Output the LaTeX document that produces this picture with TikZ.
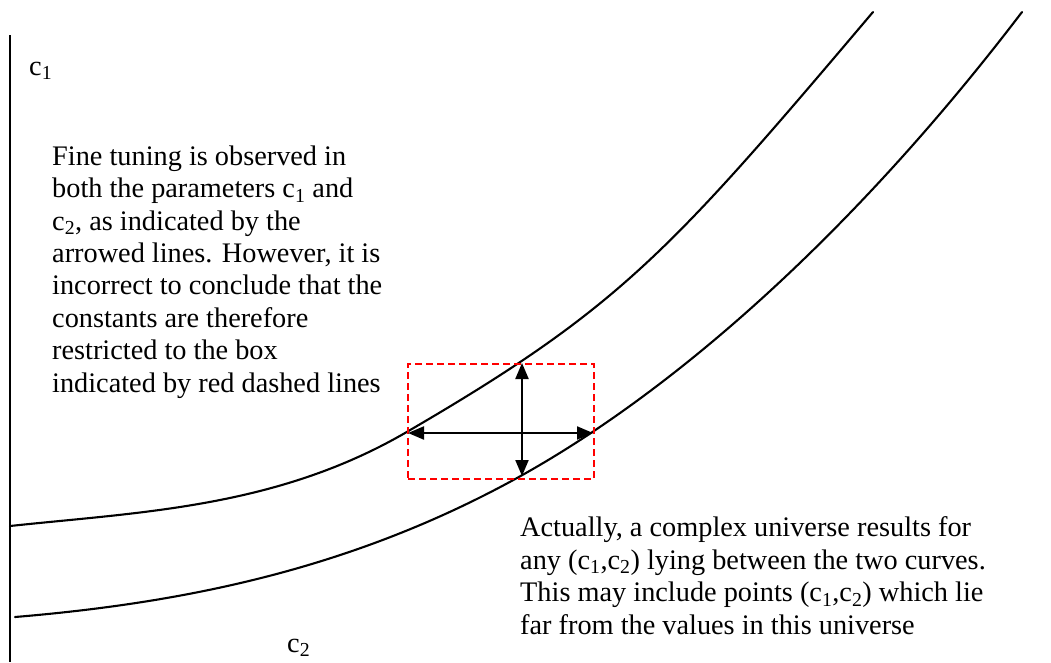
\documentclass[tikz,border=0pt]{standalone}
\usepackage{fontspec}
\setmainfont{Liberation Serif}
\usepackage{xcolor}
\usetikzlibrary{positioning, arrows.meta}
\definecolor{boxred}{HTML}{FF0000}

\tikzset{
  curveline/.style={line width=2.1pt, line cap=round},
  tuningarrow/.style={line width=2.1pt, {Triangle[length=16pt,width=13pt]}-{Triangle[length=16pt,width=13pt]}},
  notetext/.style={inner sep=0pt, align=left, font=\fontsize{28.3}{32.4}\selectfont},
}

\begin{document}
\begin{tikzpicture}[x=1pt, y=-1pt]
  \useasboundingbox (0,0) rectangle (1051,662);

  % axis
  \coordinate (axtop) at (10,35);
  \coordinate (axbot) at (10,662);
  \draw[line width=2.1pt] (axtop) -- (axbot);
  \node[notetext, anchor=base west] (cone) at (29,75) {c\textsubscript{1}};
  \node[notetext, anchor=base west] (ctwo) at (287,652) {c\textsubscript{2}};

  % the two curves
  \draw[curveline] (10,526) .. controls (140,512) and (275,508) .. (405,433)
                            .. controls (620,308) and (669,253) .. (873,12);
  \draw[curveline] (15,617) .. controls (182,603) and (350,570) .. (517,478)
                            .. controls (680,388) and (859,226) .. (1022,12);

  % red dashed box
  \node[draw=boxred, line width=2pt, dash pattern=on 7pt off 4pt, inner sep=0pt,
        minimum width=186pt, minimum height=115pt, anchor=north west] (tunebox) at (407,363) {};

  % arrowed lines
  \coordinate (hleft) at (408,433);
  \coordinate (hright) at (593,433);
  \coordinate (vtop) at (522,363);
  \coordinate (vbot) at (522,476);
  \draw[tuningarrow] (hleft) -- (hright);
  \draw[tuningarrow] (vtop) -- (vbot);

  % notes
  \node[notetext, anchor=base west] (leftnote) at (52,392) {%
    Fine tuning is observed in\\
    both the parameters c\textsubscript{1} and\\
    c\textsubscript{2}, as indicated by the\\
    arrowed lines. However, it is\\
    incorrect to conclude that the\\
    constants are therefore\\
    restricted to the box\\
    indicated by red dashed lines};
  \node[notetext, anchor=base west] (rightnote) at (520,634) {%
    Actually, a complex universe results for\\
    any (c\textsubscript{1},c\textsubscript{2}) lying between the two curves.\\
    This may include points (c\textsubscript{1},c\textsubscript{2}) which lie\\
    far from the values in this universe};
\end{tikzpicture}
\end{document}
